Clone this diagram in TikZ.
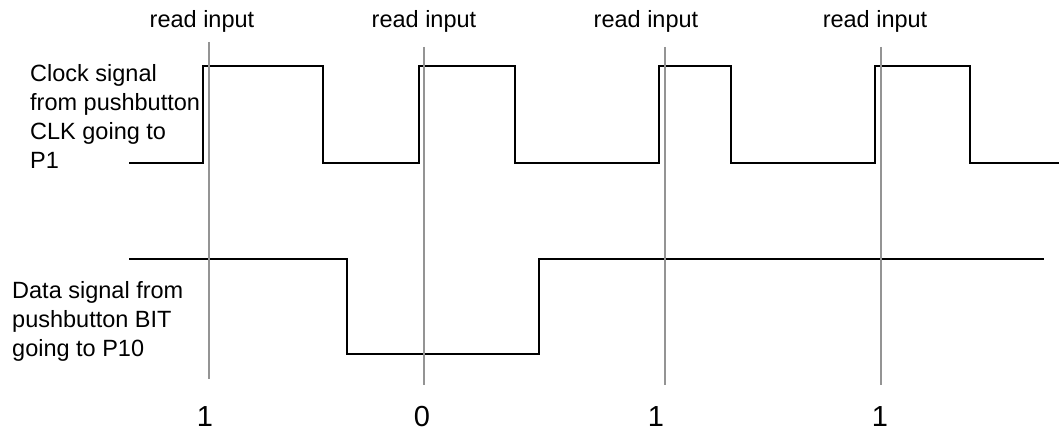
\documentclass[tikz,border=0pt]{standalone}
\usepackage{fontspec}
\setmainfont{Liberation Sans}
\newcommand{\lines}[1]{\vtop{\baselineskip=29pt\halign{##\hfil\cr#1\crcr}}}
\begin{document}
\begin{tikzpicture}[x=1pt,y=-1pt,
  signal/.style={line width=2.3pt,black,line join=miter},
  sample/.style={line width=2pt,color=black!42},
  caption/.style={font=\fontsize{23.5}{29}\selectfont,inner sep=0pt,anchor=base west},
  tag/.style={font=\fontsize{23.5}{29}\selectfont,inner sep=0pt,anchor=base},
  bitval/.style={font=\fontsize{29}{34}\selectfont,inner sep=0pt,anchor=base}]
\useasboundingbox (0,0) rectangle (1059,430);

% side captions
\node[caption] (clkcap) at (30,82) {\lines{Clock signal\cr from pushbutton\cr CLK going to\cr P1}};
\node[caption] (bitcap) at (12,298) {\lines{Data signal from\cr pushbutton BIT\cr going to P10}};

% clock waveform
\draw[signal] (129,163) -- (203,163) -- (203,66) -- (323,66) -- (323,163)
  -- (419,163) -- (419,66) -- (515,66) -- (515,163)
  -- (659,163) -- (659,66) -- (731,66) -- (731,163)
  -- (875,163) -- (875,66) -- (970,66) -- (970,163) -- (1059,163);

% data waveform
\draw[signal] (129,259) -- (347,259) -- (347,354) -- (539,354) -- (539,259) -- (1044,259);

% sampling instants
\draw[sample] (209,42) -- (209,379);
\draw[sample] (424,47) -- (424,385);
\draw[sample] (665,47) -- (665,385);
\draw[sample] (881,47) -- (881,385);

% labels above the sampling instants
\node[tag] (r1) at (202,28) {read input};
\node[tag] (r2) at (424,28) {read input};
\node[tag] (r3) at (646,28) {read input};
\node[tag] (r4) at (875,28) {read input};

% bits read
\node[bitval] (b1) at (205,426) {1};
\node[bitval] (b2) at (422,426) {0};
\node[bitval] (b3) at (656,426) {1};
\node[bitval] (b4) at (880,426) {1};
\end{tikzpicture}
\end{document}
